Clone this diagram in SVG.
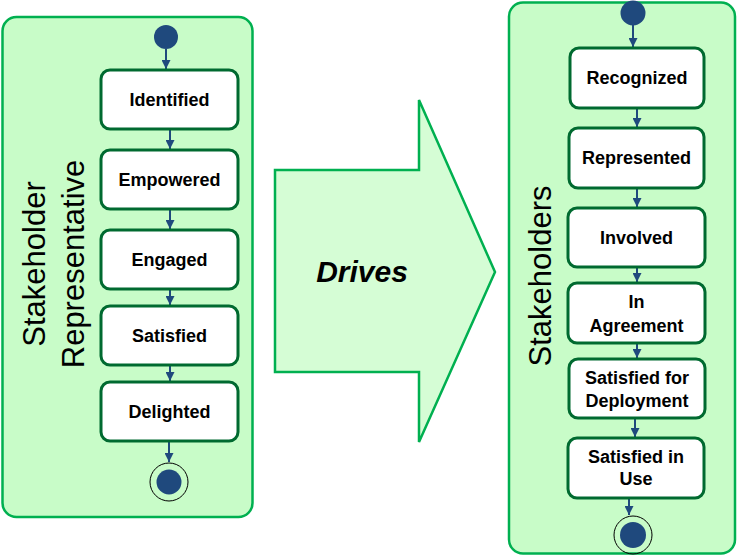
<svg xmlns="http://www.w3.org/2000/svg" width="737" height="557" viewBox="0 0 737 557">
<style>
.lane{fill:#c8fcc8;stroke:#00b050;stroke-width:2.5}
.box{fill:#ffffff;stroke:#006a30;stroke-width:3}
.t{font-family:"Liberation Sans",Arial,sans-serif;font-weight:bold;font-size:18px;fill:#000;text-anchor:middle}
.lbl{font-family:"Liberation Sans",Arial,sans-serif;font-size:31px;fill:#000;text-anchor:middle}
.dot{fill:#1f497d}
.ring{fill:none;stroke:#000;stroke-width:1}
.c{stroke:#1f497d;stroke-width:2;fill:none;marker-end:url(#ah)}
</style>
<defs>
<marker id="ah" viewBox="0 0 10 10" refX="10" refY="5" markerWidth="4.5" markerHeight="4.5" orient="auto" markerUnits="strokeWidth">
<path d="M0,0 L10,5 L0,10 z" fill="#1f497d"/>
</marker>
</defs>
<rect class="lane" x="2.5" y="17" width="250" height="500" rx="14"/>
<rect class="lane" x="509" y="2.5" width="226" height="551" rx="14"/>
<g id="drives">
<path d="M275,170 L419,170 L419,100 L495,272 L419,442 L419,372 L275,372 Z" fill="#d5fdd5" stroke="#00b050" stroke-width="2.5"/>
<text x="362" y="282" font-family="Liberation Sans,Arial,sans-serif" font-weight="bold" font-style="italic" font-size="30" text-anchor="middle">Drives</text>
</g>
<text class="lbl" transform="translate(45,264) rotate(-90)" y="0">Stakeholder</text>
<text class="lbl" transform="translate(84,264) rotate(-90)" y="0">Representative</text>
<text class="lbl" transform="translate(551,276) rotate(-90)" y="0">Stakeholders</text>
<g id="connectors">
<line class="c" x1="166" y1="49" x2="166" y2="69"/>
<line class="c" x1="170" y1="129" x2="170" y2="149"/>
<line class="c" x1="170" y1="209" x2="170" y2="229"/>
<line class="c" x1="170" y1="289" x2="170" y2="305"/>
<line class="c" x1="170" y1="365" x2="170" y2="381"/>
<line class="c" x1="169" y1="441" x2="169" y2="462"/>
<line class="c" x1="633" y1="25" x2="633" y2="47"/>
<line class="c" x1="637" y1="108" x2="637" y2="127"/>
<line class="c" x1="637" y1="188" x2="637" y2="207"/>
<line class="c" x1="637" y1="267" x2="637" y2="282"/>
<line class="c" x1="637" y1="343" x2="637" y2="358"/>
<line class="c" x1="635" y1="418" x2="635" y2="437"/>
<line class="c" x1="629" y1="498" x2="629" y2="515"/>
</g>
<g id="start1"><circle class="dot" cx="166" cy="37" r="12"/></g>
<g id="identified"><rect class="box" x="101" y="70" width="137" height="59" rx="9"/><text class="t" x="169.5" y="106">Identified</text></g>
<g id="empowered"><rect class="box" x="101" y="150" width="137" height="59" rx="9"/><text class="t" x="169.5" y="186">Empowered</text></g>
<g id="engaged"><rect class="box" x="101" y="230" width="137" height="59" rx="9"/><text class="t" x="169.5" y="266">Engaged</text></g>
<g id="satisfied"><rect class="box" x="101" y="306" width="137" height="59" rx="9"/><text class="t" x="169.5" y="342">Satisfied</text></g>
<g id="delighted"><rect class="box" x="101" y="382" width="137" height="59" rx="9"/><text class="t" x="169.5" y="418">Delighted</text></g>
<g id="end1"><circle class="ring" cx="169" cy="482" r="19"/><circle class="dot" cx="169" cy="482" r="12.5"/></g>
<g id="start2"><circle class="dot" cx="633" cy="13" r="12.5"/></g>
<g id="recognized"><rect class="box" x="570" y="48" width="134" height="60" rx="9"/><text class="t" x="637" y="84">Recognized</text></g>
<g id="represented"><rect class="box" x="569" y="128" width="135" height="60" rx="9"/><text class="t" x="636.5" y="164">Represented</text></g>
<g id="involved"><rect class="box" x="568" y="208" width="137" height="59" rx="9"/><text class="t" x="636.5" y="244">Involved</text></g>
<g id="inagreement"><rect class="box" x="568" y="283" width="137" height="60" rx="9"/><text class="t" x="636.5" y="308">In</text><text class="t" x="636.5" y="332">Agreement</text></g>
<g id="satdeploy"><rect class="box" x="569" y="359" width="136" height="59" rx="9"/><text class="t" x="637" y="384">Satisfied for</text><text class="t" x="637" y="407">Deployment</text></g>
<g id="satuse"><rect class="box" x="568" y="438" width="136" height="60" rx="9"/><text class="t" x="636" y="463">Satisfied in</text><text class="t" x="636" y="485">Use</text></g>
<g id="end2"><circle class="ring" cx="633" cy="535" r="19"/><circle class="dot" cx="633" cy="535" r="13"/></g>
</svg>
